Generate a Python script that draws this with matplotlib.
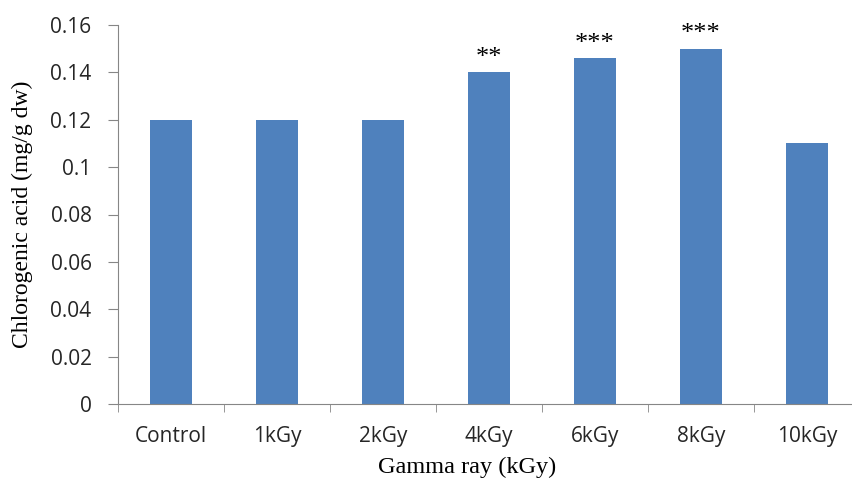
import numpy as np
import matplotlib.pyplot as plt

# data
doses = ['Control', '1kGy', '2kGy', '4kGy', '6kGy', '8kGy', '10kGy']
acid = [0.12, 0.12, 0.12, 0.14, 0.146, 0.15, 0.11]
stars = ['', '', '', '**', '***', '***', '']

fig = plt.figure(figsize=(8.52, 4.83), dpi=100)
ax = fig.add_axes([118/852, 1 - 404/483, 742/852, 379/483])

x = np.arange(len(doses))
ax.bar(x, acid, width=0.4, color='#4F81BD')

for xi, v, s in zip(x, acid, stars):   # significance marks
    if s:
        ax.text(xi, v + 0.0015, s, ha='center', va='bottom', fontsize=19,
                family='Liberation Serif')

ax.set_xlim(-0.5, len(doses) - 0.5)
ax.set_ylim(0, 0.16)
ax.set_yticks(np.arange(0, 0.161, 0.02))
ax.set_yticklabels(['0', '0.02', '0.04', '0.06', '0.08', '0.1', '0.12', '0.14', '0.16'])
ax.set_xticks(x)
ax.set_xticklabels(doses)
ax.set_xticks(np.arange(-0.5, len(doses), 1), minor=True)

ax.tick_params(axis='x', which='major', length=0, pad=16, labelsize=15)
ax.tick_params(axis='x', which='minor', length=6, color='#868686', direction='out')
ax.tick_params(axis='y', length=7, color='#868686', labelsize=15, pad=12)
for lbl in ax.get_xticklabels() + ax.get_yticklabels():
    lbl.set_family('Open Sans')
    lbl.set_color('#262626')

for sp in ['top', 'right']:
    ax.spines[sp].set_visible(False)
for sp in ['left', 'bottom']:
    ax.spines[sp].set_color('#868686')

ax.set_ylabel('Chlorogenic acid (mg/g dw)', family='Liberation Serif', fontsize=17)
ax.yaxis.set_label_coords(-0.114, 0.5)
ax.set_xlabel('Gamma ray (kGy)', family='Liberation Serif', fontsize=17.5)
ax.xaxis.set_label_coords(0.47, -0.14)

fig.savefig('out.png', dpi=100)
